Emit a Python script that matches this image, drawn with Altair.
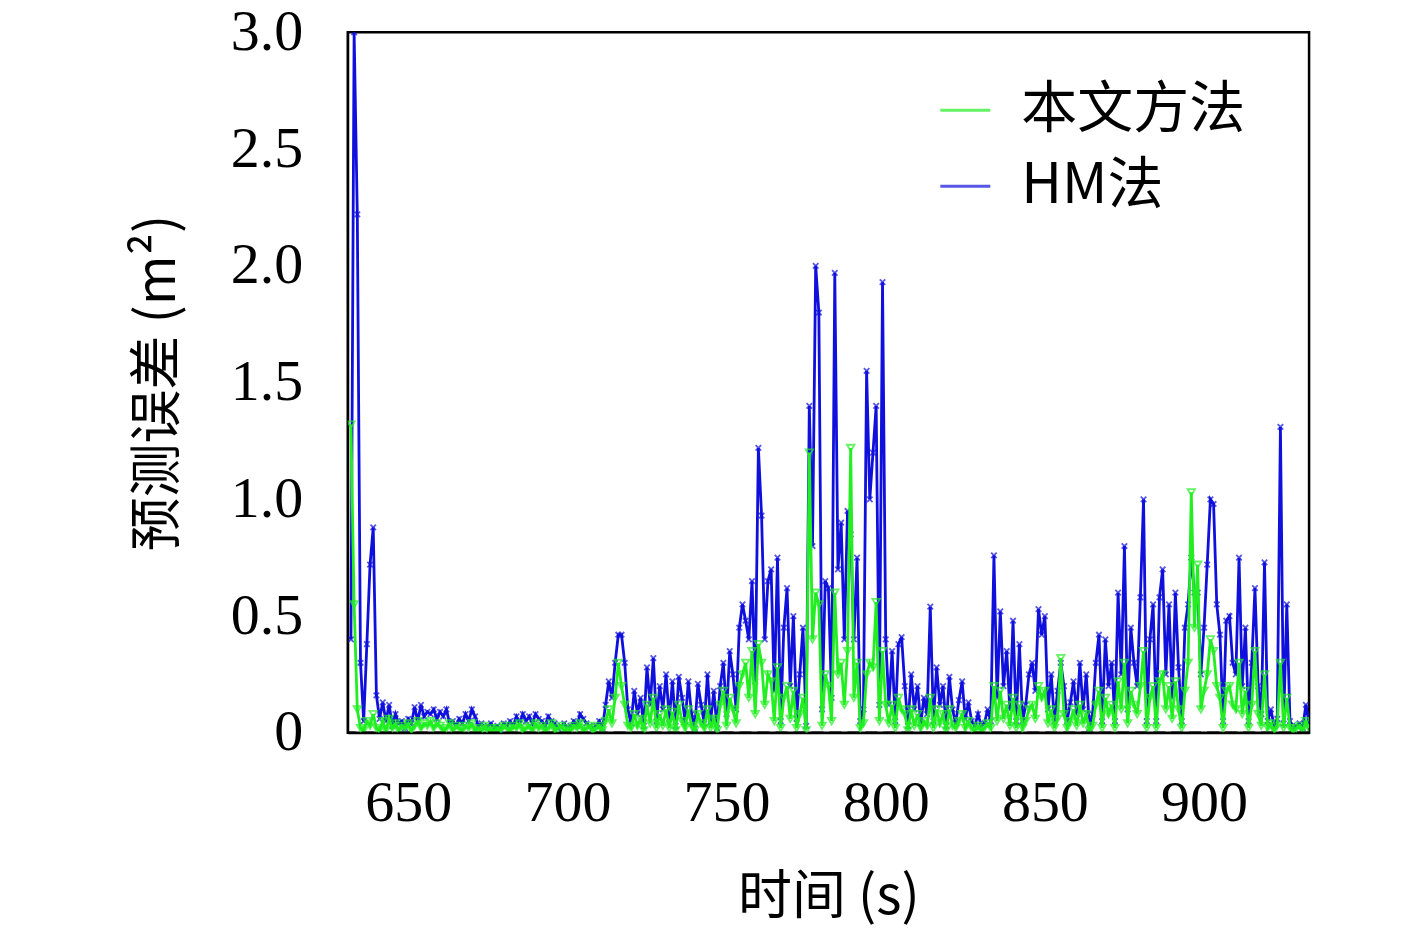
import altair as alt
import pandas as pd

t0 = 632

hm = [
    0.40, 3.00, 2.22, 0.30, 0.05, 0.38, 0.72, 0.88, 0.16, 0.06,
    0.13, 0.05, 0.12, 0.03, 0.08, 0.04, 0.05, 0.02, 0.06, 0.04,
    0.11, 0.05, 0.12, 0.07, 0.09, 0.08, 0.10, 0.06, 0.09, 0.07,
    0.10, 0.04, 0.05, 0.03, 0.06, 0.04, 0.08, 0.05, 0.10, 0.07,
    0.03, 0.04, 0.02, 0.03, 0.04, 0.02, 0.03, 0.01, 0.04, 0.03,
    0.05, 0.03, 0.07, 0.04, 0.08, 0.05, 0.07, 0.04, 0.08, 0.06,
    0.05, 0.03, 0.07, 0.05, 0.04, 0.02, 0.03, 0.04, 0.02, 0.03,
    0.05, 0.03, 0.08, 0.06, 0.04, 0.03, 0.02, 0.03, 0.05, 0.02,
    0.12, 0.22, 0.15, 0.30, 0.42, 0.42, 0.30, 0.10, 0.04, 0.18,
    0.08, 0.15, 0.03, 0.28, 0.12, 0.32, 0.05, 0.20, 0.10, 0.25,
    0.06, 0.22, 0.03, 0.24, 0.15, 0.05, 0.22, 0.08, 0.02, 0.21,
    0.12, 0.04, 0.25, 0.05, 0.18, 0.02, 0.20, 0.30, 0.08, 0.35,
    0.25, 0.10, 0.45, 0.55, 0.48, 0.40, 0.65, 0.22, 1.22, 0.93,
    0.40, 0.65, 0.70, 0.18, 0.75, 0.05, 0.45, 0.62, 0.20, 0.50,
    0.06, 0.25, 0.45, 0.03, 1.40, 0.80, 2.00, 1.80, 0.10, 0.65,
    0.62, 0.15, 1.97, 0.70, 0.90, 0.40, 0.95, 0.85, 0.40, 0.75,
    0.05, 0.10, 1.55, 1.00, 1.20, 1.40, 0.12, 1.93, 0.40, 0.12,
    0.35, 0.05, 0.38, 0.41, 0.20, 0.03, 0.25, 0.10, 0.20, 0.04,
    0.15, 0.08, 0.54, 0.05, 0.28, 0.12, 0.20, 0.03, 0.24, 0.10,
    0.04, 0.14, 0.22, 0.06, 0.13, 0.05, 0.03, 0.08, 0.03, 0.04,
    0.10, 0.05, 0.76, 0.15, 0.52, 0.20, 0.35, 0.10, 0.48, 0.05,
    0.38, 0.05, 0.12, 0.25, 0.30, 0.18, 0.53, 0.42, 0.50, 0.10,
    0.25, 0.05, 0.18, 0.30, 0.20, 0.05, 0.13, 0.22, 0.08, 0.30,
    0.10, 0.25, 0.02, 0.08, 0.30, 0.42, 0.05, 0.40, 0.20, 0.30,
    0.05, 0.60, 0.25, 0.80, 0.10, 0.45, 0.30, 0.20, 0.58, 1.00,
    0.05, 0.40, 0.55, 0.05, 0.58, 0.70, 0.25, 0.55, 0.15, 0.60,
    0.28, 0.05, 0.45, 0.55, 0.75, 0.60, 0.60, 0.25, 0.45, 0.72,
    1.00, 0.98, 0.55, 0.42, 0.05, 0.48, 0.50, 0.30, 0.25, 0.75,
    0.20, 0.45, 0.05, 0.30, 0.62, 0.20, 0.08, 0.73, 0.05, 0.10,
    0.03, 0.06, 1.31, 0.04, 0.55, 0.05, 0.02, 0.03, 0.04, 0.02,
    0.12, 0.04,
]

ours = [
    1.32, 0.55, 0.10, 0.02, 0.01, 0.05, 0.03, 0.08, 0.02, 0.01,
    0.05, 0.01, 0.06, 0.02, 0.04, 0.01, 0.03, 0.02, 0.04, 0.01,
    0.03, 0.05, 0.02, 0.04, 0.03, 0.05, 0.02, 0.04, 0.03, 0.01,
    0.02, 0.04, 0.01, 0.03, 0.02, 0.01, 0.03, 0.02, 0.04, 0.01,
    0.02, 0.01, 0.03, 0.01, 0.02, 0.01, 0.02, 0.01, 0.03, 0.02,
    0.01, 0.03, 0.02, 0.04, 0.01, 0.02, 0.03, 0.01, 0.04, 0.02,
    0.03, 0.01, 0.02, 0.04, 0.01, 0.02, 0.03, 0.01, 0.02, 0.01,
    0.03, 0.02, 0.04, 0.01, 0.02, 0.03, 0.01, 0.02, 0.03, 0.01,
    0.05, 0.10, 0.04, 0.15, 0.30, 0.20, 0.12, 0.03, 0.02, 0.08,
    0.03, 0.06, 0.01, 0.12, 0.04, 0.15, 0.02, 0.08, 0.03, 0.10,
    0.02, 0.09, 0.01, 0.12, 0.05, 0.02, 0.10, 0.03, 0.01, 0.08,
    0.04, 0.02, 0.10, 0.02, 0.06, 0.01, 0.12, 0.18, 0.03, 0.15,
    0.10, 0.04, 0.20, 0.25, 0.30, 0.15, 0.35, 0.08, 0.38, 0.30,
    0.12, 0.25, 0.22, 0.05, 0.28, 0.02, 0.15, 0.20, 0.06, 0.18,
    0.02, 0.08, 0.15, 0.01, 1.20, 0.40, 0.60, 0.55, 0.03, 0.25,
    0.20, 0.05, 0.60, 0.25, 0.30, 0.12, 0.35, 1.22, 0.15, 0.30,
    0.02, 0.04, 0.25, 0.30, 0.28, 0.56, 0.05, 0.35, 0.12, 0.04,
    0.12, 0.02, 0.15, 0.10, 0.08, 0.01, 0.10, 0.03, 0.08, 0.02,
    0.05, 0.03, 0.15, 0.02, 0.10, 0.04, 0.08, 0.01, 0.10, 0.03,
    0.02, 0.05, 0.08, 0.02, 0.05, 0.02, 0.01, 0.03, 0.01, 0.02,
    0.04, 0.02, 0.20, 0.05, 0.18, 0.06, 0.12, 0.03, 0.15, 0.02,
    0.12, 0.02, 0.05, 0.10, 0.12, 0.06, 0.20, 0.15, 0.18, 0.04,
    0.10, 0.02, 0.06, 0.32, 0.08, 0.02, 0.05, 0.10, 0.03, 0.12,
    0.04, 0.08, 0.01, 0.03, 0.12, 0.18, 0.02, 0.15, 0.08, 0.12,
    0.02, 0.22, 0.10, 0.30, 0.04, 0.18, 0.12, 0.08, 0.20, 0.35,
    0.02, 0.15, 0.20, 0.02, 0.22, 0.25, 0.10, 0.20, 0.06, 0.22,
    0.10, 0.02, 0.18, 0.30, 1.03, 0.45, 0.72, 0.10, 0.18, 0.25,
    0.40, 0.35, 0.20, 0.15, 0.02, 0.18, 0.20, 0.12, 0.10, 0.30,
    0.08, 0.18, 0.02, 0.12, 0.35, 0.08, 0.03, 0.25, 0.02, 0.04,
    0.01, 0.03, 0.30, 0.02, 0.15, 0.02, 0.01, 0.02, 0.03, 0.01,
    0.05, 0.02,
]

series_names = ["本文方法", "HM法"]
series_colors = ["#22ee22", "#1010dd"]
x_ticks = [650, 700, 750, 800, 850, 900]
y_ticks = [0, 0.5, 1.0, 1.5, 2.0, 2.5, 3.0]

rows = []
for i, v in enumerate(hm):
    rows.append({"t": t0 + i, "err": v, "method": "HM法", "ord": 0})
for i, v in enumerate(ours):
    rows.append({"t": t0 + i, "err": v, "method": "本文方法", "ord": 1})
df = pd.DataFrame(rows)

SERIF = "Liberation Serif, Noto Serif CJK SC, Noto Sans CJK SC, serif"
CJK = "Noto Sans CJK SC"

color = alt.Color(
    "method:N",
    scale=alt.Scale(domain=series_names, range=series_colors),
    legend=alt.Legend(
        title=None, orient="none", legendX=590, legendY=50, symbolType="stroke",
        symbolStrokeWidth=3, symbolSize=2500, labelFontSize=56,
        labelFont=CJK, rowPadding=20, labelLimit=500, labelOffset=28,
    ),
)
x = alt.X("t:Q", scale=alt.Scale(domain=[631, 933], nice=False),
          axis=alt.Axis(values=x_ticks, title="时间 (s)", grid=False,
                        labelFontSize=58, labelFont=SERIF, titleFontSize=54,
                        titleFont=CJK, titleFontWeight="normal",
                        labelPadding=42, titlePadding=38, ticks=False,
                        domainColor="black", domainWidth=2,
                        labelColor="black", titleColor="black"))
y = alt.Y("err:Q", scale=alt.Scale(domain=[0, 3], nice=False),
          axis=alt.Axis(values=y_ticks, title="预测误差 (m²)", grid=False,
                        labelExpr="datum.value == 0 ? '0' : format(datum.value, '.1f')",
                        labelFontSize=58, labelFont=SERIF, titleFontSize=54,
                        titleFont=CJK, titleFontWeight="normal",
                        labelPadding=45, titlePadding=45, ticks=False,
                        domainColor="black", domainWidth=2,
                        labelColor="black", titleColor="black"))

base = alt.Chart(df).encode(x=x, y=y, color=color, order=alt.Order("ord:Q"))

hm_line = base.transform_filter("datum.method == 'HM法'").mark_line(strokeWidth=2.8, clip=True)
hm_pts = base.transform_filter("datum.method == 'HM法'").mark_point(
    shape="M-1,-1L1,1M1,-1L-1,1", size=30, filled=False, strokeWidth=1.8, clip=True)
our_line = base.transform_filter("datum.method == '本文方法'").mark_line(strokeWidth=2.8, clip=True)
our_pts = base.transform_filter("datum.method == '本文方法'").mark_point(
    shape="triangle-down", size=55, filled=False, strokeWidth=1.8, clip=True)

zero = alt.Chart(pd.DataFrame({"y": [0]})).mark_rule(
    color="black", strokeDash=[12, 6], strokeWidth=2.5).encode(y="y:Q")

chart = alt.layer(hm_line, hm_pts, our_line, our_pts, zero).properties(
    width=962, height=701,
    autosize=alt.AutoSizeParams(type="none"),
    padding={"left": 340, "top": 24, "right": 100, "bottom": 200},
    background="white",
).configure_view(stroke="black", strokeWidth=2.5)

chart.save("out.html", embed_options={"renderer": "svg", "actions": False})
